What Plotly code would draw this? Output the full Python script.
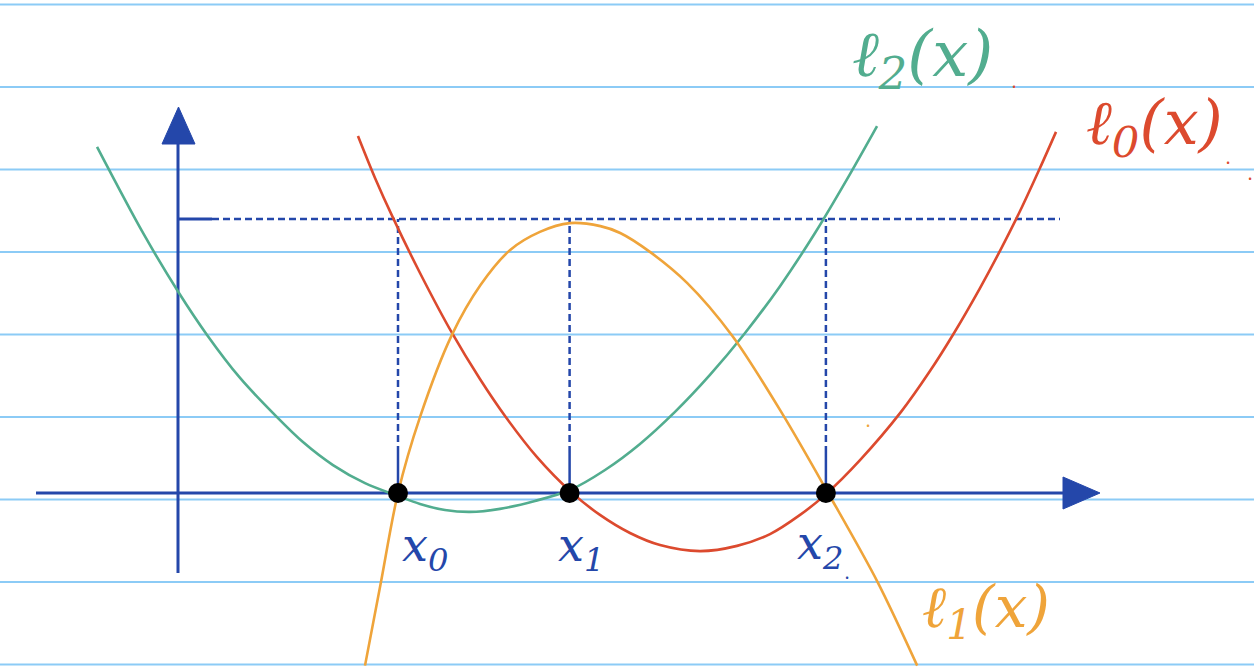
import plotly.graph_objects as go

# ---------------- data ----------------
# interpolation nodes x0, x1, x2 on the x-axis
node_x = [2.0, 3.56, 5.89]
node_y = [0.0, 0.0, 0.0]
node_labels = ["x<sub>0</sub>", "x<sub>1</sub>", "x<sub>2</sub>"]

# l0(x)  (red)
l0_x = [1.636, 1.791, 1.955, 2.200, 2.491, 2.745, 2.973, 3.264, 3.573, 3.836, 4.109, 4.382, 4.745,
        5.082, 5.382, 5.655, 5.891, 6.200, 6.573, 6.836, 7.055, 7.291, 7.482, 7.655, 7.836, 7.982]
l0_y = [1.303, 1.150, 1.004, 0.803, 0.584, 0.416, 0.281, 0.131, 0.004, -0.080, -0.146, -0.190, -0.212,
        -0.193, -0.150, -0.080, -0.004, 0.120, 0.296, 0.445, 0.584, 0.748, 0.891, 1.029, 1.186, 1.318]

# l1(x)  (orange)
l1_x = [1.70, 1.84, 2.00, 2.20, 2.49, 2.75, 3.02, 3.29, 3.56, 3.84, 4.02, 4.29, 4.63, 5.04, 5.50, 5.91, 6.36, 6.72]
l1_y = [-0.63, -0.336, 0.0, 0.277, 0.577, 0.759, 0.887, 0.953, 0.985, 0.974, 0.949, 0.88, 0.766, 0.573, 0.285, 0.0, -0.325, -0.63]

# l2(x)  (green)
l2_x = [-0.736, -0.318, 0.009, 0.264, 0.564, 0.900, 1.136, 1.409, 1.700, 2.000, 2.200, 2.427, 2.655,
        2.927, 3.245, 3.564, 3.882, 4.200, 4.518, 4.836, 5.155, 5.473, 5.791, 6.109, 6.355]
l2_y = [1.263, 0.949, 0.730, 0.577, 0.420, 0.277, 0.186, 0.102, 0.036, -0.011, -0.040, -0.062, -0.069,
        -0.058, -0.029, 0.011, 0.084, 0.179, 0.296, 0.431, 0.584, 0.755, 0.949, 1.164, 1.339]

curve_names = ["ℓ<sub>0</sub>(x)", "ℓ<sub>1</sub>(x)", "ℓ<sub>2</sub>(x)"]
level_one = 1.0

# ---------------- styling ----------------
W, H = 1254, 670
RED = "#dc4a2e"
ORANGE = "#efa43a"
GREEN = "#52ad8f"
BLUE = "#2447aa"
RULE = "#8ccbf6"


def X(px):
    return (px - 178) / 110.0


def Y(py):
    return (493 - py) / 274.0


fig = go.Figure()

shapes = []
# ruled notebook lines
for k in range(9):
    py = 4.5 + 82.5 * k
    shapes.append(dict(type="line", xref="paper", x0=0, x1=1, yref="y", y0=Y(py), y1=Y(py),
                       line=dict(color=RULE, width=2), layer="below"))

# dashed guide at level 1
DASH = dict(color=BLUE, width=2.5, dash="7px,4px")
shapes.append(dict(type="line", x0=0, x1=X(212), y0=level_one, y1=level_one,
                   line=dict(color=BLUE, width=3), layer="below"))
shapes.append(dict(type="line", x0=X(212), x1=X(1060), y0=level_one, y1=level_one,
                   line=DASH, layer="below"))
for nx in node_x:
    shapes.append(dict(type="line", x0=nx, x1=nx, y0=Y(453), y1=level_one,
                       line=DASH, layer="below"))
    shapes.append(dict(type="line", x0=nx, x1=nx, y0=0, y1=Y(453),
                       line=dict(color=BLUE, width=2.5), layer="below"))

# axes
shapes.append(dict(type="line", x0=X(36), x1=X(1066), y0=0, y1=0,
                   line=dict(color=BLUE, width=3), layer="below"))
shapes.append(dict(type="line", x0=0, x1=0, y0=Y(573), y1=Y(142),
                   line=dict(color=BLUE, width=3), layer="below"))
# arrow heads
shapes.append(dict(type="path",
                   path=f"M {X(1063)} {Y(477)} L {X(1100)} {Y(493)} L {X(1063)} {Y(509)} Z",
                   fillcolor=BLUE, line=dict(color=BLUE, width=1), layer="below"))
shapes.append(dict(type="path",
                   path=f"M {X(162)} {Y(144)} L {X(178.5)} {Y(107)} L {X(195)} {Y(144)} Z",
                   fillcolor=BLUE, line=dict(color=BLUE, width=1), layer="below"))

# curves
for xs, ys, col, nm in [(l2_x, l2_y, GREEN, curve_names[2]),
                        (l0_x, l0_y, RED, curve_names[0]),
                        (l1_x, l1_y, ORANGE, curve_names[1])]:
    fig.add_trace(go.Scatter(x=xs, y=ys, mode="lines", name=nm,
                             line=dict(color=col, width=2.6, shape="spline", smoothing=0.9),
                             hoverinfo="skip"))

# node dots
fig.add_trace(go.Scatter(x=node_x, y=node_y, mode="markers", name="nodes",
                         marker=dict(color="black", size=20), hoverinfo="skip"))

font_base = dict(family="DejaVu Serif", style="italic")
annotations = [
    dict(x=X(850), y=Y(58), text=curve_names[2], font=dict(color=GREEN, size=64, **font_base)),
    dict(x=X(1084), y=Y(126), text=curve_names[0], font=dict(color=RED, size=62, **font_base)),
    dict(x=X(920), y=Y(611), text=curve_names[1], font=dict(color=ORANGE, size=58, **font_base)),
    dict(x=X(400), y=Y(548), text=node_labels[0], font=dict(color=BLUE, size=46, **font_base)),
    dict(x=X(556), y=Y(548), text=node_labels[1], font=dict(color=BLUE, size=46, **font_base)),
    dict(x=X(795), y=Y(546), text=node_labels[2], font=dict(color=BLUE, size=46, **font_base)),
]
for a in annotations:
    a.update(xref="x", yref="y", xanchor="left", yanchor="middle", showarrow=False)

# stray pen dots / periods
for px, py, col in [(1014, 86, RED), (1228, 162, RED), (1250, 178, RED), (868, 425, ORANGE), (847, 577, BLUE)]:
    annotations.append(dict(x=X(px), y=Y(py), text="•", showarrow=False, xref="x", yref="y",
                            font=dict(color=col, size=11), xanchor="center", yanchor="middle"))

fig.update_layout(
    width=W, height=H, autosize=False,
    margin=dict(l=0, r=0, t=0, b=0),
    paper_bgcolor="white", plot_bgcolor="white",
    showlegend=False,
    shapes=shapes, annotations=annotations,
    xaxis=dict(range=[X(0), X(W)], visible=False, fixedrange=True),
    yaxis=dict(range=[Y(H), Y(0)], visible=False, fixedrange=True),
)

fig.write_html("out.html", config={"displayModeBar": False},
               post_script="document.body.style.margin='0px';")
